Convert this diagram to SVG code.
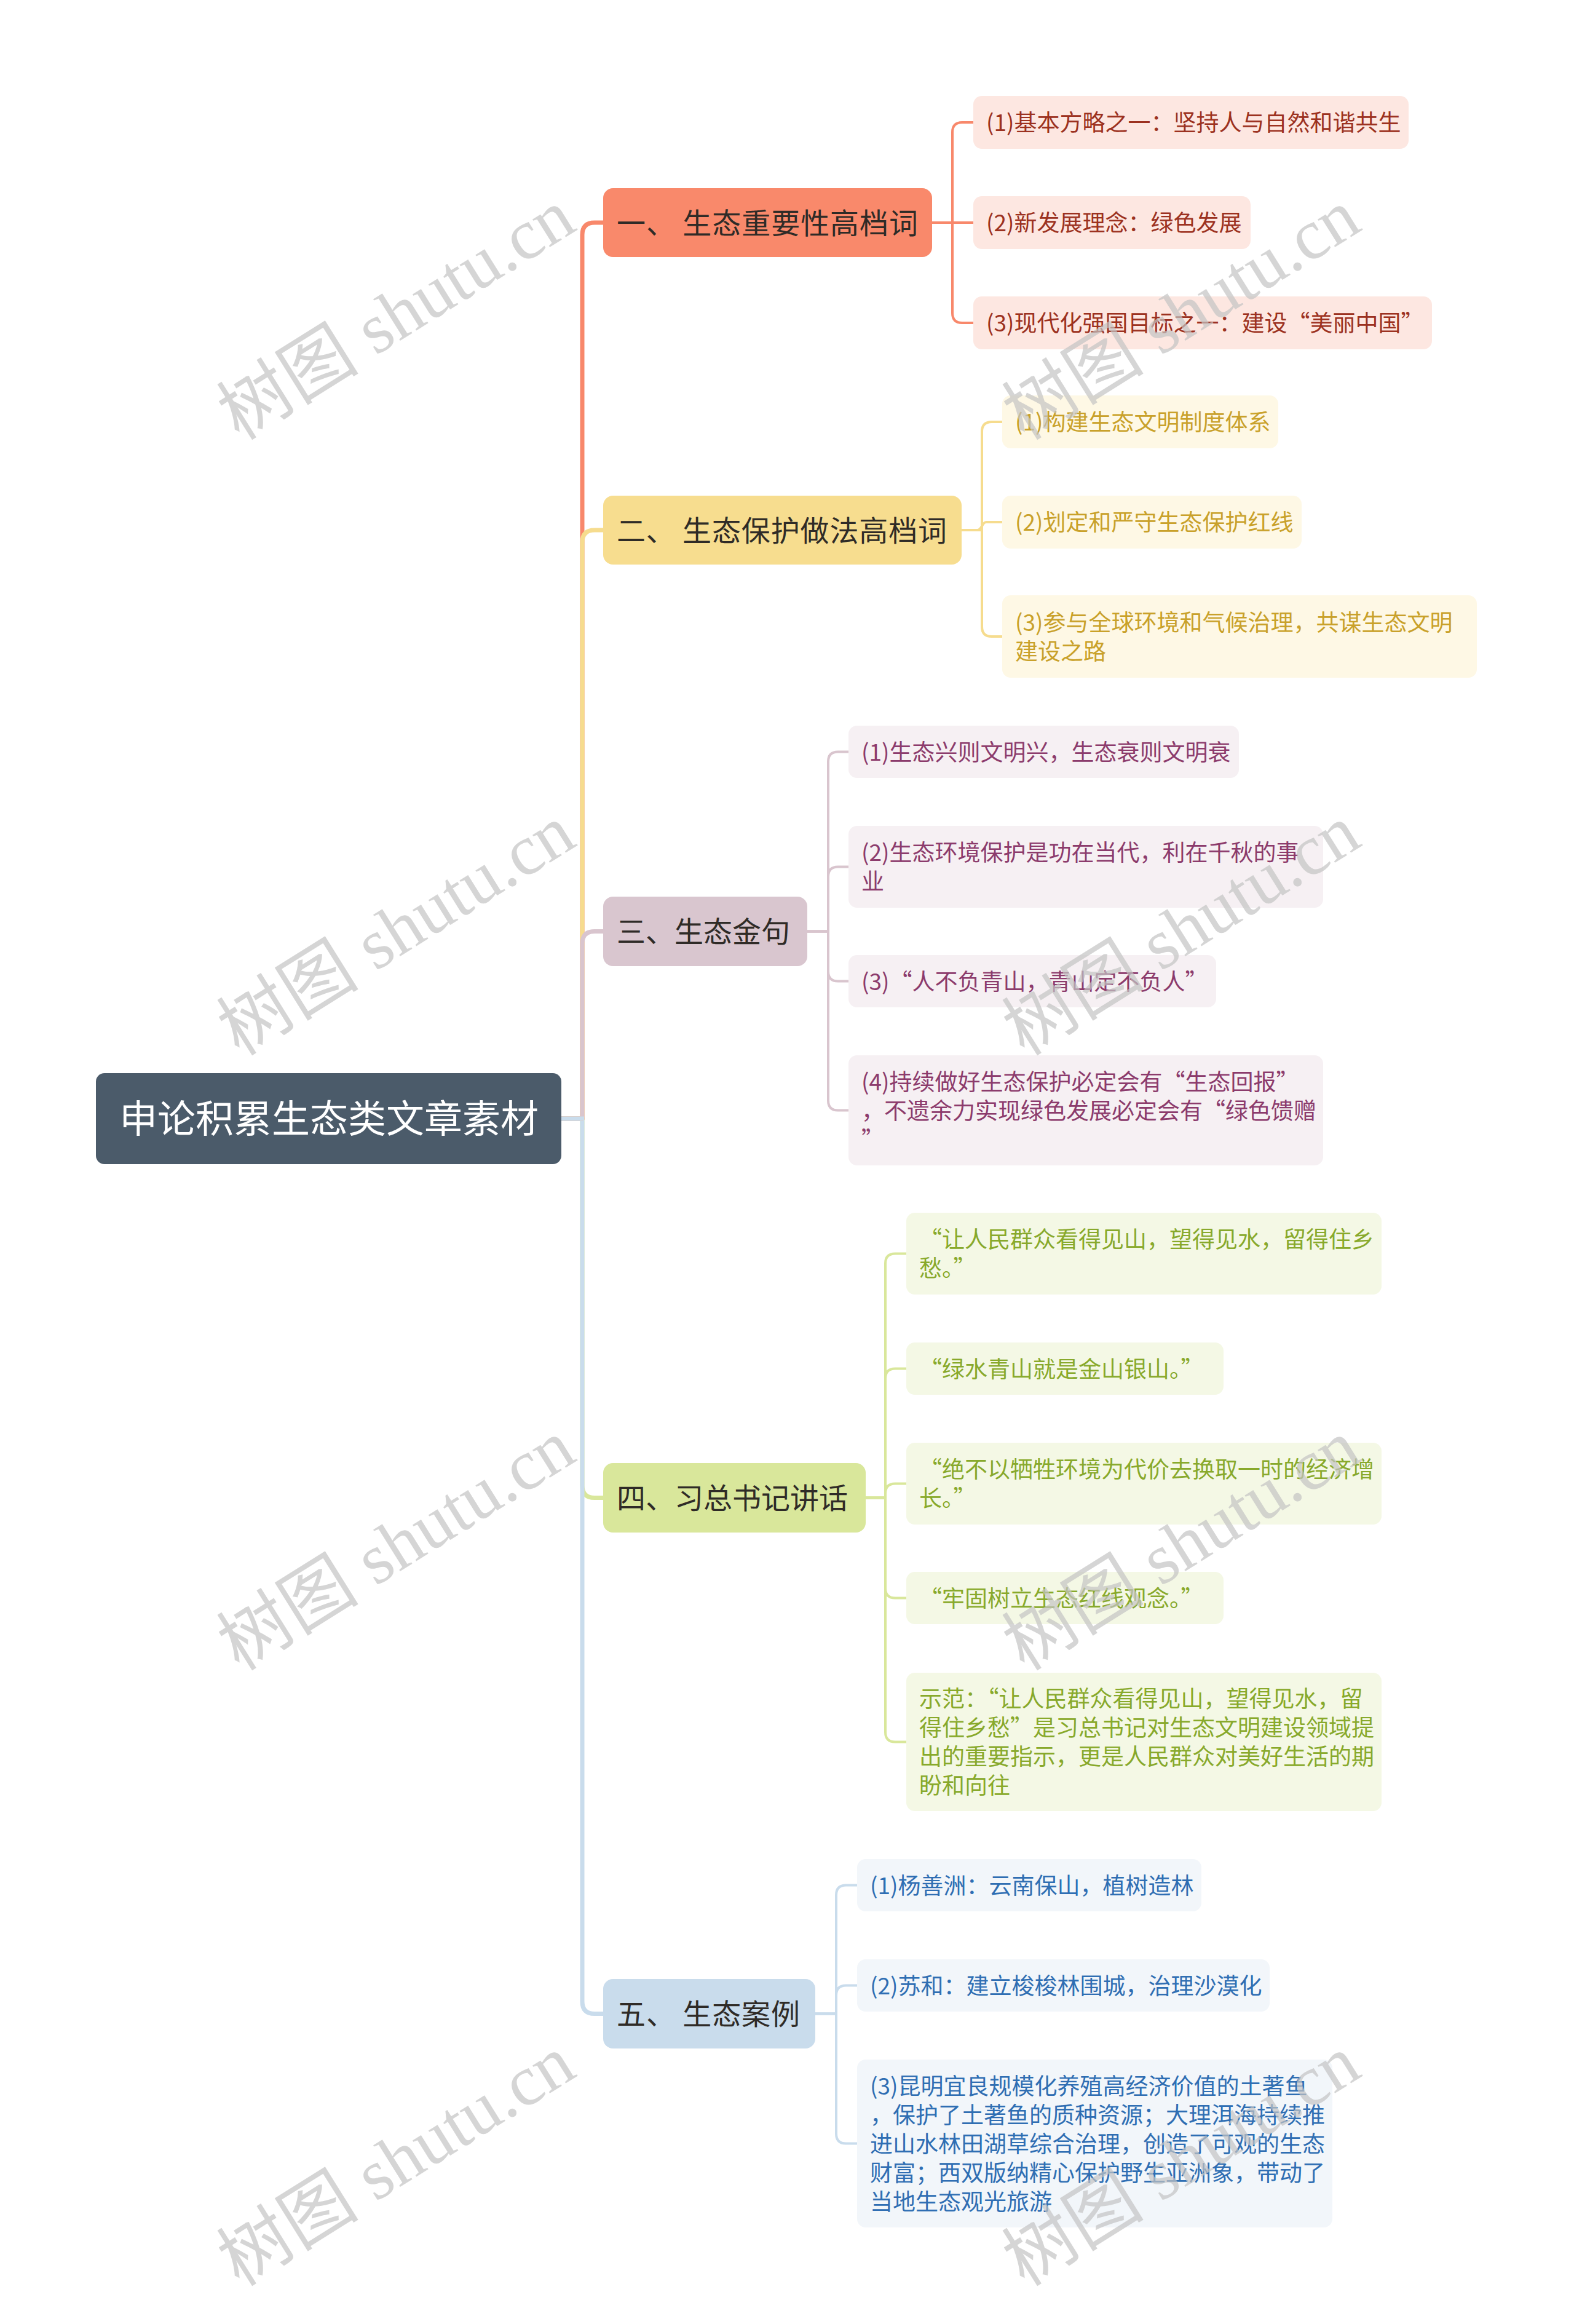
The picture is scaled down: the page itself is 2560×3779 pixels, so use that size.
<svg xmlns="http://www.w3.org/2000/svg" width="2560" height="3779" viewBox="0 0 2560 3779">
<style>
text{font-family:'Noto Sans CJK SC','Noto Sans',sans-serif;}
.root{fill:#4b5b6a;}
.rt{fill:#ffffff;font-size:62px;text-anchor:middle;}
.l1t{font-size:47px;fill:#2f2b27;}
.l2t{font-size:37px;}
.trunk{fill:none;stroke-width:7;stroke-linejoin:round;}
.br{fill:none;stroke-width:4;stroke-linejoin:round;}
.c1{stroke:#f8886b;} .c2{stroke:#f6dc8e;} .c3{stroke:#d9c5ce;} .c4{stroke:#d9e79b;} .c5{stroke:#c9dcec;}
.f1{fill:#f9896b;} .f2{fill:#f7dd8f;} .f3{fill:#d9c6cf;} .f4{fill:#d9e79b;} .f5{fill:#c9dcec;}
.s1{fill:#fde7e1;} .s2{fill:#fef8e5;} .s3{fill:#f6f0f3;} .s4{fill:#f4f8e5;} .s5{fill:#f2f6fa;}
.t1{fill:#9c3120;} .t2{fill:#c9a12a;} .t3{fill:#8c3b6c;} .t4{fill:#88a92b;} .t5{fill:#2f6eb3;}
.wm{font-family:'Liberation Serif','Noto Sans CJK SC',serif;font-size:116px;fill:#c4c4c4;opacity:0.7;text-anchor:middle;}
</style>
<rect width="2560" height="3779" fill="#ffffff"/>
<g id="connectors">
<path class="trunk c4" d="M913 1819 H947 V2415.5 Q947 2435.5 967 2435.5 H981"/>
<path class="trunk c5" d="M913 1819 H947 V3254.5 Q947 3274.5 967 3274.5 H981"/>
<path class="trunk c1" d="M913 1819 H947 V382 Q947 362 967 362 H981"/>
<path class="trunk c2" d="M913 1819 H947 V882 Q947 862 967 862 H981"/>
<path class="trunk c3" d="M913 1819 H947 V1534.5 Q947 1514.5 967 1514.5 H981"/>
<path class="trunk c5" d="M913 1819 H950"/>
<path class="br c1" d="M1516 362 H1549 V215 Q1549 199 1565 199 H1583"/>
<path class="br c1" d="M1516 362 H1583"/>
<path class="br c1" d="M1516 362 H1549 V509 Q1549 525 1565 525 H1583"/>
<path class="br c2" d="M1564 862 H1597 V702 Q1597 686 1613 686 H1630"/>
<path class="br c2" d="M1564 862 H1590 C1597 862 1597 849 1604 849 H1630"/>
<path class="br c2" d="M1564 862 H1597 V1019 Q1597 1035 1613 1035 H1630"/>
<path class="br c3" d="M1313 1514.5 H1347 V1238.5 Q1347 1222.5 1363 1222.5 H1380"/>
<path class="br c3" d="M1313 1514.5 H1347 V1425.5 Q1347 1409.5 1363 1409.5 H1380"/>
<path class="br c3" d="M1313 1514.5 H1347 V1579.5 Q1347 1595.5 1363 1595.5 H1380"/>
<path class="br c3" d="M1313 1514.5 H1347 V1789.5 Q1347 1805.5 1363 1805.5 H1380"/>
<path class="br c4" d="M1408 2435.5 H1440 V2054.5 Q1440 2038.5 1456 2038.5 H1474"/>
<path class="br c4" d="M1408 2435.5 H1440 V2241.5 Q1440 2225.5 1456 2225.5 H1474"/>
<path class="br c4" d="M1408 2435.5 H1440 V2428.5 Q1440 2412.5 1456 2412.5 H1474"/>
<path class="br c4" d="M1408 2435.5 H1440 V2582.5 Q1440 2598.5 1456 2598.5 H1474"/>
<path class="br c4" d="M1408 2435.5 H1440 V2816.5 Q1440 2832.5 1456 2832.5 H1474"/>
<path class="br c5" d="M1326 3274.5 H1360 V3081.5 Q1360 3065.5 1376 3065.5 H1394"/>
<path class="br c5" d="M1326 3274.5 H1360 V3244.5 Q1360 3228.5 1376 3228.5 H1394"/>
<path class="br c5" d="M1326 3274.5 H1360 V3469.5 Q1360 3485.5 1376 3485.5 H1394"/>
</g>
<g id="root">
<rect class="root" x="156" y="1745" width="757" height="148" rx="14"/>
<text class="rt" x="535" y="1842">申论积累生态类文章素材</text>
</g>
<g id="n1">
<rect class="f1" x="981" y="306" width="535" height="112" rx="16"/>
<text class="l1t" x="1003" y="380" textLength="490" lengthAdjust="spacing">一、 生态重要性高档词</text>
</g>
<g id="n1-1"><rect class="s1" x="1583" y="156" width="708" height="86" rx="14"/><text class="l2t t1" x="1604" y="213">(1)基本方略之一：坚持人与自然和谐共生</text></g>
<g id="n1-2"><rect class="s1" x="1583" y="319" width="451" height="86" rx="14"/><text class="l2t t1" x="1604" y="376">(2)新发展理念：绿色发展</text></g>
<g id="n1-3"><rect class="s1" x="1583" y="482" width="746" height="86" rx="14"/><text class="l2t t1" x="1604" y="539">(3)现代化强国目标之一：建设“美丽中国”</text></g>
<g id="n2">
<rect class="f2" x="981" y="806" width="583" height="112" rx="16"/>
<text class="l1t" x="1003" y="880" textLength="537" lengthAdjust="spacing">二、 生态保护做法高档词</text>
</g>
<g id="n2-1"><rect class="s2" x="1630" y="643" width="449" height="86" rx="14"/><text class="l2t t2" x="1651" y="700">(1)构建生态文明制度体系</text></g>
<g id="n2-2"><rect class="s2" x="1630" y="806" width="487" height="86" rx="14"/><text class="l2t t2" x="1651" y="863">(2)划定和严守生态保护红线</text></g>
<g id="n2-3"><rect class="s2" x="1630" y="968" width="772" height="134" rx="14"/><text class="l2t t2" x="1651" y="1025.5">(3)参与全球环境和气候治理，共谋生态文明<tspan x="1651" dy="47">建设之路</tspan></text></g>
<g id="n3">
<rect class="f3" x="981" y="1458" width="332" height="113" rx="16"/>
<text class="l1t" x="1003" y="1532">三、生态金句</text>
</g>
<g id="n3-1"><rect class="s3" x="1380" y="1180" width="635" height="85" rx="14"/><text class="l2t t3" x="1401" y="1236.5">(1)生态兴则文明兴，生态衰则文明衰</text></g>
<g id="n3-2"><rect class="s3" x="1380" y="1343" width="772" height="133" rx="14"/><text class="l2t t3" x="1401" y="1400">(2)生态环境保护是功在当代，利在千秋的事<tspan x="1401" dy="47">业</tspan></text></g>
<g id="n3-3"><rect class="s3" x="1380" y="1553" width="598" height="85" rx="14"/><text class="l2t t3" x="1401" y="1609.5">(3)“人不负青山，青山定不负人”</text></g>
<g id="n3-4"><rect class="s3" x="1380" y="1716" width="772" height="179" rx="14"/><text class="l2t t3" x="1401" y="1772.5">(4)持续做好生态保护必定会有“生态回报”<tspan x="1401" dy="47">，不遗余力实现绿色发展必定会有“绿色馈赠</tspan><tspan x="1401" dy="47">”</tspan></text></g>
<g id="n4">
<rect class="f4" x="981" y="2379" width="427" height="113" rx="16"/>
<text class="l1t" x="1003" y="2453">四、习总书记讲话</text>
</g>
<g id="n4-1"><rect class="s4" x="1474" y="1972" width="773" height="133" rx="14"/><text class="l2t t4" x="1495" y="2029">“让人民群众看得见山，望得见水，留得住乡<tspan x="1495" dy="47">愁。”</tspan></text></g>
<g id="n4-2"><rect class="s4" x="1474" y="2183" width="516" height="85" rx="14"/><text class="l2t t4" x="1495" y="2239.5">“绿水青山就是金山银山。”</text></g>
<g id="n4-3"><rect class="s4" x="1474" y="2346" width="773" height="133" rx="14"/><text class="l2t t4" x="1495" y="2403">“绝不以牺牲环境为代价去换取一时的经济增<tspan x="1495" dy="47">长。”</tspan></text></g>
<g id="n4-4"><rect class="s4" x="1474" y="2556" width="516" height="85" rx="14"/><text class="l2t t4" x="1495" y="2612.5">“牢固树立生态红线观念。”</text></g>
<g id="n4-5"><rect class="s4" x="1474" y="2720" width="773" height="225" rx="14"/><text class="l2t t4" x="1495" y="2776">示范：“让人民群众看得见山，望得见水，留<tspan x="1495" dy="47">得住乡愁”是习总书记对生态文明建设领域提</tspan><tspan x="1495" dy="47">出的重要指示，更是人民群众对美好生活的期</tspan><tspan x="1495" dy="47">盼和向往</tspan></text></g>
<g id="n5">
<rect class="f5" x="981" y="3218" width="345" height="113" rx="16"/>
<text class="l1t" x="1003" y="3292" textLength="298" lengthAdjust="spacing">五、 生态案例</text>
</g>
<g id="n5-1"><rect class="s5" x="1394" y="3023" width="560" height="85" rx="14"/><text class="l2t t5" x="1415" y="3079.5">(1)杨善洲：云南保山，植树造林</text></g>
<g id="n5-2"><rect class="s5" x="1394" y="3186" width="671" height="85" rx="14"/><text class="l2t t5" x="1415" y="3242.5">(2)苏和：建立梭梭林围城，治理沙漠化</text></g>
<g id="n5-3"><rect class="s5" x="1394" y="3349" width="773" height="273" rx="14"/><text class="l2t t5" x="1415" y="3405.5">(3)昆明宜良规模化养殖高经济价值的土著鱼<tspan x="1415" dy="47">，保护了土著鱼的质种资源；大理洱海持续推</tspan><tspan x="1415" dy="47">进山水林田湖草综合治理，创造了可观的生态</tspan><tspan x="1415" dy="47">财富；西双版纳精心保护野生亚洲象，带动了</tspan><tspan x="1415" dy="47">当地生态观光旅游</tspan></text></g>
<g id="watermarks">
<text class="wm" x="644" y="551" transform="rotate(-32 644 511)">树图 shutu.cn</text>
<text class="wm" x="1921" y="551" transform="rotate(-32 1921 511)">树图 shutu.cn</text>
<text class="wm" x="644" y="1552" transform="rotate(-32 644 1512)">树图 shutu.cn</text>
<text class="wm" x="1921" y="1552" transform="rotate(-32 1921 1512)">树图 shutu.cn</text>
<text class="wm" x="644" y="2552" transform="rotate(-32 644 2512)">树图 shutu.cn</text>
<text class="wm" x="1921" y="2552" transform="rotate(-32 1921 2512)">树图 shutu.cn</text>
<text class="wm" x="644" y="3553" transform="rotate(-32 644 3513)">树图 shutu.cn</text>
<text class="wm" x="1921" y="3553" transform="rotate(-32 1921 3513)">树图 shutu.cn</text>
</g>
</svg>
